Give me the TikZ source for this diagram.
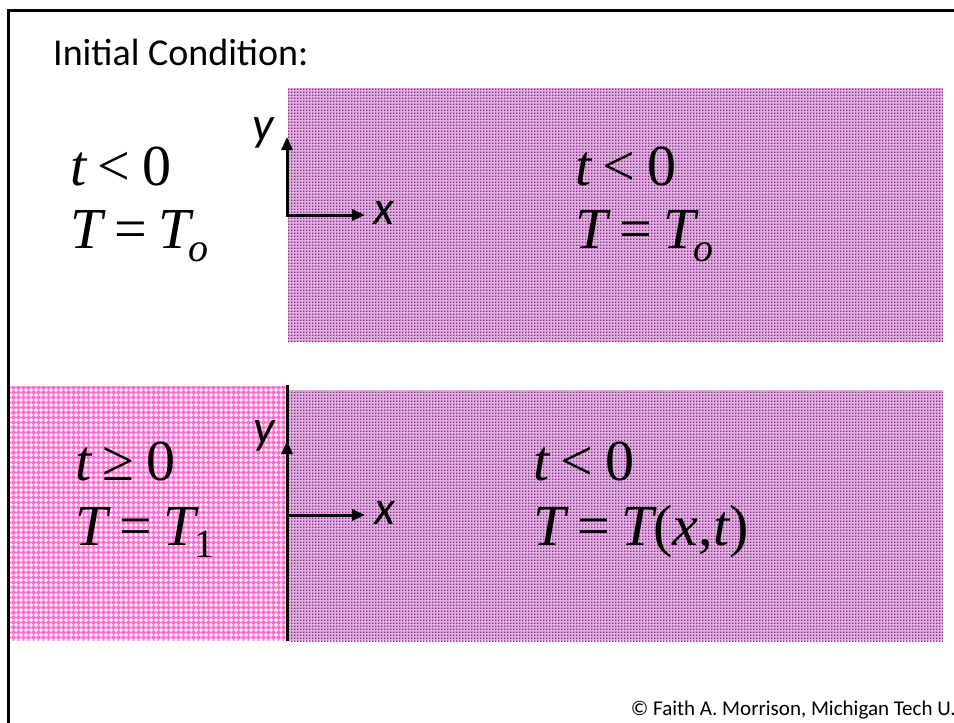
\documentclass[tikz,border=0pt]{standalone}
\usepackage{fontspec}
\setmainfont{Carlito}
\newfontfamily\tms{Liberation Serif}
\usetikzlibrary{patterns.meta,arrows.meta}
\definecolor{lav}{HTML}{DDB2DD}
\definecolor{purp}{HTML}{921F92}
\definecolor{pinkbg}{HTML}{FF6CD2}
\tikzdeclarepattern{name=purdots,type=uncolored,bounding box={(0,0) and (3pt,3pt)},tile size={(3pt,3pt)},
  code={\pgfpathrectangle{\pgfpointorigin}{\pgfpoint{1.8pt}{1.8pt}}\pgfusepath{fill}}}
\tikzdeclarepattern{name=pinkdots,type=uncolored,bounding box={(0,0) and (4.5pt,4.5pt)},tile size={(4.5pt,4.5pt)},
  code={\pgfpathrectangle{\pgfpoint{1.5pt}{0pt}}{\pgfpoint{1.5pt}{4.5pt}}\pgfpathrectangle{\pgfpoint{0pt}{1.5pt}}{\pgfpoint{4.5pt}{1.5pt}}\pgfusepath{fill}}}
\tikzset{
  eq/.style={font=\tms\fontsize{58}{66}\selectfont, anchor=base west, inner sep=0pt},
  axlbl/.style={font=\fontsize{48}{54}\selectfont\itshape, inner sep=0pt},
  axis/.style={line width=3pt, -{Triangle[length=13pt,width=11pt]}},
}
\newcommand{\sbo}{\raisebox{-13pt}{\fontsize{40}{44}\selectfont\itshape o}}
\newcommand{\sbone}{\raisebox{-12pt}{\fontsize{40}{44}\selectfont\upshape 1}}
\newcommand{\gapsp}{\kern0.2em}
\begin{document}
\begin{tikzpicture}[x=1pt,y=-1pt]
\useasboundingbox (0,0) rectangle (954,723);
% regions
\fill[lav] (288,88) rectangle (943,342);
\fill[pattern=purdots, pattern color=purp] (288,88) rectangle (943,342);
\fill[pinkbg] (10,386) rectangle (287,641);
\fill[pattern=pinkdots, pattern color=white] (10,386) rectangle (287,641);
\fill[lav] (289,390) rectangle (943,641);
\fill[pattern=purdots, pattern color=purp] (289,390) rectangle (943,641);
% frame
\draw[line width=3pt] (8,10) rectangle (975,745);
% wall
\coordinate (wt) at (287,385);
\coordinate (wb) at (287,641);
\draw[line width=3pt] (wt) -- (wb);
% axes top
\coordinate (o1) at (287,215);
\coordinate (y1) at (287,137);
\coordinate (x1) at (365,215);
\draw[axis] (o1) -- (y1);
\draw[axis] ([xshift=-1.5pt]o1) -- (x1);
\node[axlbl] (ly1) at (263,133) {y};
\node[axlbl] (lx1) at (384,213) {x};
% axes bottom
\coordinate (o2) at (287,515);
\coordinate (y2) at (287,441);
\coordinate (x2) at (365,515);
\draw[axis] (o2) -- (y2);
\draw[axis] (o2) -- (x2);
\node[axlbl] (ly2) at (264,436) {y};
\node[axlbl] (lx2) at (385,513) {x};
% texts
\node[font=\fontsize{38}{44}\selectfont, anchor=base west, inner sep=0pt] (title) at (53,65) {Initial Condition:};
\node[eq] (a1) at (70,185) {\itshape t\gapsp\upshape<\gapsp0};
\node[eq] (a2) at (70,248) {\itshape T\gapsp\upshape=\gapsp\itshape T\kern-0.04em\sbo};
\node[eq] (b1) at (575,185) {\itshape t\gapsp\upshape<\gapsp0};
\node[eq] (b2) at (575,248) {\itshape T\gapsp\upshape=\gapsp\itshape T\kern-0.04em\sbo};
\node[eq] (c1) at (75,480) {\itshape t\gapsp\upshape≥\gapsp0};
\node[eq] (c2) at (75,545) {\itshape T\gapsp\upshape=\gapsp\itshape T\kern-0.02em\sbone};
\node[eq] (d1) at (533,480) {\itshape t\gapsp\upshape<\gapsp0};
\node[eq] (d2) at (533,545) {\itshape T\gapsp\upshape=\gapsp\itshape T\upshape(\itshape x\upshape,\itshape t\upshape)};
\node[font=\fontsize{21}{25}\selectfont, anchor=base east, inner sep=0pt] (copy) at (956,715) {© Faith A. Morrison, Michigan Tech U.};
\end{tikzpicture}
\end{document}
